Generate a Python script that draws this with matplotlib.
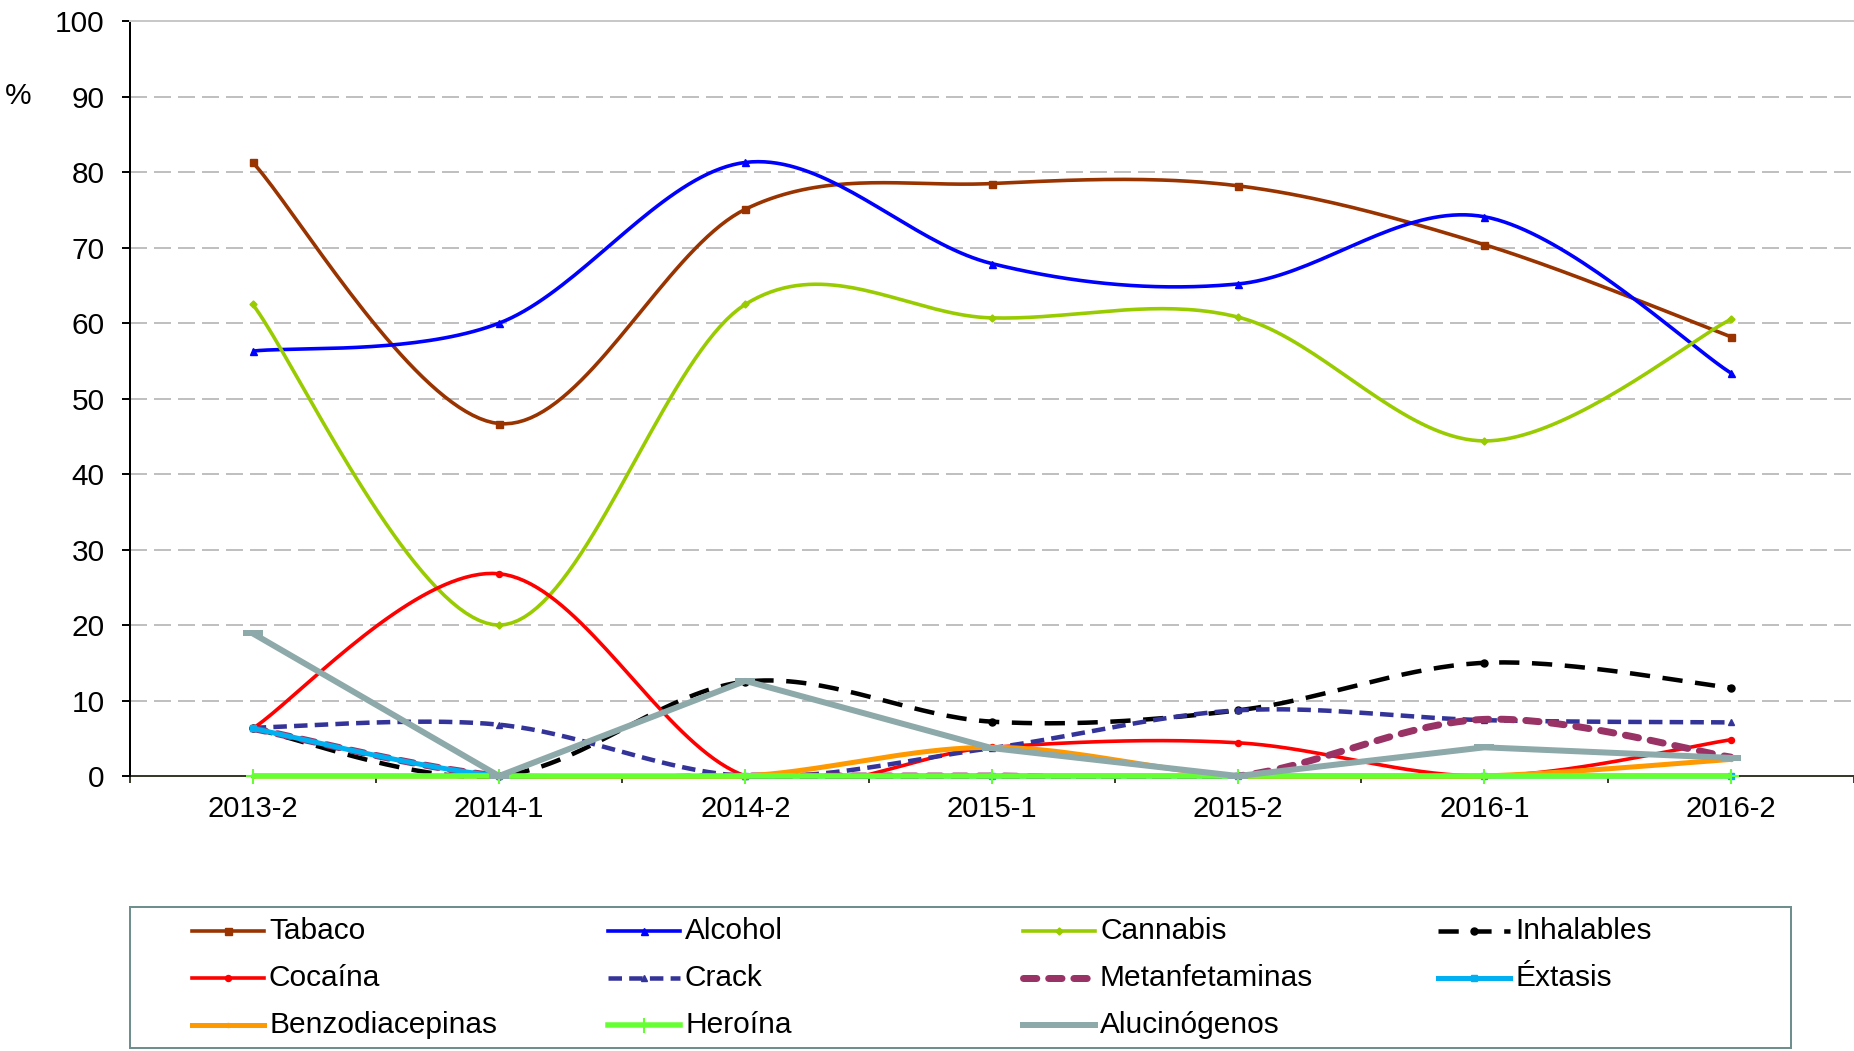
import numpy as np
import matplotlib
matplotlib.use("Agg")
import matplotlib.pyplot as plt
from matplotlib.lines import Line2D
from matplotlib.patches import Rectangle

plt.rcParams['font.family'] = ['Liberation Sans', 'DejaVu Sans']

# ---------------- data ----------------
periods = ["2013-2", "2014-1", "2014-2", "2015-1", "2015-2", "2016-1", "2016-2"]

tabaco          = [81.3, 46.7, 75.1, 78.5, 78.2, 70.4, 58.2]
alcohol         = [56.3, 60.0, 81.3, 67.9, 65.2, 74.1, 53.4]
cannabis        = [62.5, 20.0, 62.5, 60.7, 60.8, 44.4, 60.5]
inhalables      = [6.3, 0.0, 12.5, 7.2, 8.7, 15.0, 11.7]
cocaina         = [6.3, 26.8, 0.0, 3.8, 4.4, 0.0, 4.8]
crack           = [6.4, 6.8, 0.0, 3.7, 8.7, 7.4, 7.1]
metanfetaminas  = [6.3, 0.0, 0.0, 0.0, 0.0, 7.5, 2.5]
extasis         = [6.3, 0.0, 0.0, 0.0, 0.0, 0.0, 0.0]
benzodiacepinas = [0.0, 0.0, 0.0, 3.8, 0.0, 0.0, 2.2]
heroina         = [0.0, 0.0, 0.0, 0.0, 0.0, 0.0, 0.0]
alucinogenos    = [18.9, 0.0, 12.6, 3.7, 0.0, 3.8, 2.4]

yticks = list(range(0, 101, 10))

PX = 0.72  # points per pixel at dpi 100

series = [
    # label, values, color, lw(px), dashes(lw units) or None, marker, msize(px), smooth
    ("Tabaco", tabaco, "#993300", 3.6, None, "s", 7, True),
    ("Alcohol", alcohol, "#0000FF", 3.6, None, "^", 7, True),
    ("Cannabis", cannabis, "#99CC00", 3.6, None, "D", 5, True),
    ("Inhalables", inhalables, "#000000", 4.5, (4.5, 2.8), "o", 7, True),
    ("Cocaína", cocaina, "#FF0000", 3.6, None, "o", 6, True),
    ("Crack", crack, "#333399", 4.5, (3.0, 1.6), "^", 6, True),
    ("Metanfetaminas", metanfetaminas, "#993366", 7.0, (1.9, 1.7), None, 0, True),
    ("Éxtasis", extasis, "#00B0F0", 5.0, None, "s", 6, True),
    ("Benzodiacepinas", benzodiacepinas, "#FF9900", 5.0, None, "o", 4, True),
    ("Heroína", heroina, "#66FF33", 5.5, None, "+", 15, False),
    ("Alucinógenos", alucinogenos, "#8EA9A9", 6.0, None, "_", 20, False),
]


def smooth_curve(xs, ys, n=40):
    pts = np.column_stack([xs, ys]).astype(float)
    out = []
    for i in range(len(pts) - 1):
        p0 = pts[i - 1] if i > 0 else pts[i]
        p1 = pts[i]
        p2 = pts[i + 1]
        p3 = pts[i + 2] if i + 2 < len(pts) else pts[i + 1]
        c1 = p1 + (p2 - p0) / 6.0
        c2 = p2 - (p3 - p1) / 6.0
        t = np.linspace(0, 1, n)[:, None]
        b = ((1 - t) ** 3) * p1 + 3 * ((1 - t) ** 2) * t * c1 + 3 * (1 - t) * t ** 2 * c2 + t ** 3 * p2
        out.append(b if i == 0 else b[1:])
    out = np.vstack(out)
    return out[:, 0], out[:, 1]


W, H = 1854, 1051
fig = plt.figure(figsize=(W / 100, H / 100), dpi=100)
ax_left, ax_bottom_px, ax_top_px = 129.5, 776.0, 21.3
ax = fig.add_axes([ax_left / W, 1 - ax_bottom_px / H, 1 - ax_left / W, (ax_bottom_px - ax_top_px) / H])

x = np.arange(len(periods))
ax.set_xlim(-0.5, len(periods) - 0.5)
ax.set_ylim(0, 100)

# grid
for yv in yticks[1:-1]:
    ax.axhline(yv, color="#C0C0C0", lw=2 * PX, ls=(0, (8.5, 3.5)), zorder=0.5)

ax.spines["right"].set_visible(False)
ax.spines["top"].set_color("#C8C8C8")
ax.spines["top"].set_linewidth(2 * PX)
ax.spines["left"].set_color("#000000")
ax.spines["left"].set_linewidth(2 * PX)
ax.spines["bottom"].set_color("#3A3A2A")
ax.spines["bottom"].set_linewidth(2 * PX)
ax.spines["bottom"].set_zorder(1)

ax.set_yticks(yticks)
ax.set_yticklabels([str(v) for v in yticks])
ax.tick_params(axis="y", direction="out", length=6, width=1.4, pad=12, labelsize=21.5, colors="black")

ax.set_xticks(np.arange(-0.5, len(periods), 1.0))
ax.set_xticklabels([])
ax.set_xticks(x, minor=True)
ax.set_xticklabels(periods, minor=True)
ax.tick_params(axis="x", which="major", direction="out", length=5, width=1.4, color="#3A3A2A")
ax.tick_params(axis="x", which="minor", length=0, pad=13.5, labelsize=21)

clip_rect = Rectangle((0, -0.004), 1, 1.01, transform=ax.transAxes)

for i, (label, vals, color, lwpx, dashes, marker, mspx, sm) in enumerate(series):
    z = 2 + i * 0.1
    if sm:
        sx, sy = smooth_curve(x, vals)
    else:
        sx, sy = x, np.array(vals, float)
    kw = {}
    if dashes is not None:
        kw["ls"] = (0, dashes)
    capstyle = "round" if label == "Metanfetaminas" else "butt"
    ln, = ax.plot(sx, sy, color=color, lw=lwpx * PX, zorder=z, dash_capstyle=capstyle,
                  solid_capstyle="butt", **kw)
    ln.set_clip_path(clip_rect)
    if marker is not None:
        mew = 1.5 if marker in ("+",) else (6 * PX if marker == "_" else 1.0)
        ax.plot(x, vals, ls="none", marker=marker, ms=mspx * PX, color=color, mew=mew,
                mec=color, zorder=z + 0.05, clip_on=False)

# % label
fig.text(18 / W, 1 - 96 / H, "%", ha="center", va="center", fontsize=21.5)

# legend box
box = Rectangle((130 / W, 1 - 1048 / H), (1791 - 130) / W, (1048 - 907) / H,
                transform=fig.transFigure, fill=False, ec="#6F8F8F", lw=2 * PX)
fig.add_artist(box)

col_x = [192, 608, 1023, 1438]
row_y = [930.6, 977.6, 1024.6]
handle_len = 72
for k, (label, vals, color, lwpx, dashes, marker, mspx, sm) in enumerate(series):
    r, c = divmod(k, 4)
    x0 = col_x[c]
    yy = 1 - row_y[r] / H
    xs = np.array([x0, x0 + handle_len / 2, x0 + handle_len]) / W
    kw = {}
    if dashes is not None:
        kw["ls"] = (0, dashes)
    capstyle = "round" if label == "Metanfetaminas" else "butt"
    if marker is not None:
        mew = 1.5 if marker in ("+",) else (6 * PX if marker == "_" else 1.0)
        kw.update(marker=marker, ms=mspx * PX, mec=color, mew=mew, markevery=[1])
    ln = Line2D(xs, [yy] * 3, transform=fig.transFigure, color=color, lw=lwpx * PX,
                dash_capstyle=capstyle, **kw)
    fig.add_artist(ln)
    fig.text((x0 + handle_len + 5) / W, yy, label, ha="left", va="center", fontsize=21.5)

fig.savefig("out.png", dpi=100)
